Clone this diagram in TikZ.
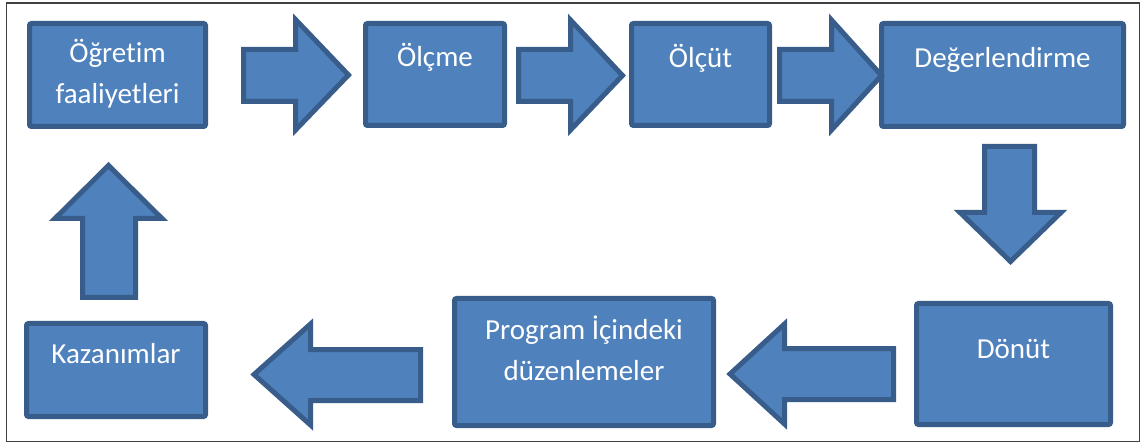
\documentclass[tikz,border=0pt]{standalone}
\usepackage{fontspec}
\setmainfont{Carlito}[Ligatures=NoCommon]
\definecolor{boxfill}{HTML}{4F81BD}
\definecolor{boxline}{HTML}{385D8A}
\definecolor{framecol}{HTML}{404040}
\begin{document}
\begin{tikzpicture}[x=1pt,y=-1pt,
  box/.style={draw=boxline,fill=boxfill,line width=5pt,rounded corners=2pt,inner sep=0pt},
  blockarrow/.style={draw=boxline,fill=boxfill,line width=5pt,line join=miter},
  lbl/.style={text=white,font=\fontsize{29}{41}\selectfont,align=center,anchor=base,inner sep=0pt}]
\useasboundingbox (0,0) rectangle (1145,443);
\draw[framecol,line width=1.3pt] (6.5,3) rectangle (1139.5,441.5);
% boxes
\node[box,minimum width=176pt,minimum height=103pt] (a) at (117.5,75) {};
\node[box,minimum width=139pt,minimum height=102pt] (b) at (435,74.5) {};
\node[box,minimum width=138pt,minimum height=102pt] (c) at (700.5,74.5) {};
\node[box,minimum width=242pt,minimum height=103pt] (d) at (1002.5,75) {};
\node[box,minimum width=194pt,minimum height=121pt] (e) at (1013.5,364) {};
\node[box,minimum width=259pt,minimum height=127pt] (f) at (584,362) {};
\node[box,minimum width=179pt,minimum height=93pt] (g) at (116,370) {};
% labels (base anchor of multi-line text = last line)
\node[lbl] (at) at (117.5,104) {Öğretim\\faaliyetleri};
\node[lbl] (bt) at (435,67) {Ölçme};
\node[lbl] (ct) at (700.5,68) {Ölçüt};
\node[lbl] (dt) at (1002.5,68) {Değerlendirme};
\node[lbl] (et) at (1013.5,358) {Dönüt};
\node[lbl] (ft) at (584,380) {Program İçindeki\\düzenlemeler};
\node[lbl] (gt) at (116,363) {Kazanımlar};
% block arrows
\draw[blockarrow] (243.5,49.5) -- (295.5,49.5) -- (295.5,19.5) -- (348.5,75) -- (295.5,130) -- (295.5,101.5) -- (243.5,101.5) -- cycle;
\draw[blockarrow] (518.5,49.5) -- (570.5,49.5) -- (570.5,20) -- (622.5,75.5) -- (570.5,130) -- (570.5,101.5) -- (518.5,101.5) -- cycle;
\draw[blockarrow] (779.5,49.5) -- (831.5,49.5) -- (831.5,20) -- (881.5,75.5) -- (831.5,130) -- (831.5,101.5) -- (779.5,101.5) -- cycle;
\draw[blockarrow] (984.5,146.5) -- (1034.5,146.5) -- (1034.5,212.5) -- (1061,212.5) -- (1010.5,261.5) -- (960,212.5) -- (984.5,212.5) -- cycle;
\draw[blockarrow] (893.5,348.5) -- (784.5,348.5) -- (784.5,324) -- (730,374) -- (784.5,424) -- (784.5,399.5) -- (893.5,399.5) -- cycle;
\draw[blockarrow] (420.5,349.5) -- (310.5,349.5) -- (310.5,324) -- (254,374.5) -- (310.5,425) -- (310.5,400.5) -- (420.5,400.5) -- cycle;
\draw[blockarrow] (82.5,297.5) -- (82.5,218.5) -- (55,218.5) -- (108.5,165.5) -- (162,218.5) -- (135.5,218.5) -- (135.5,297.5) -- cycle;
\end{tikzpicture}
\end{document}
